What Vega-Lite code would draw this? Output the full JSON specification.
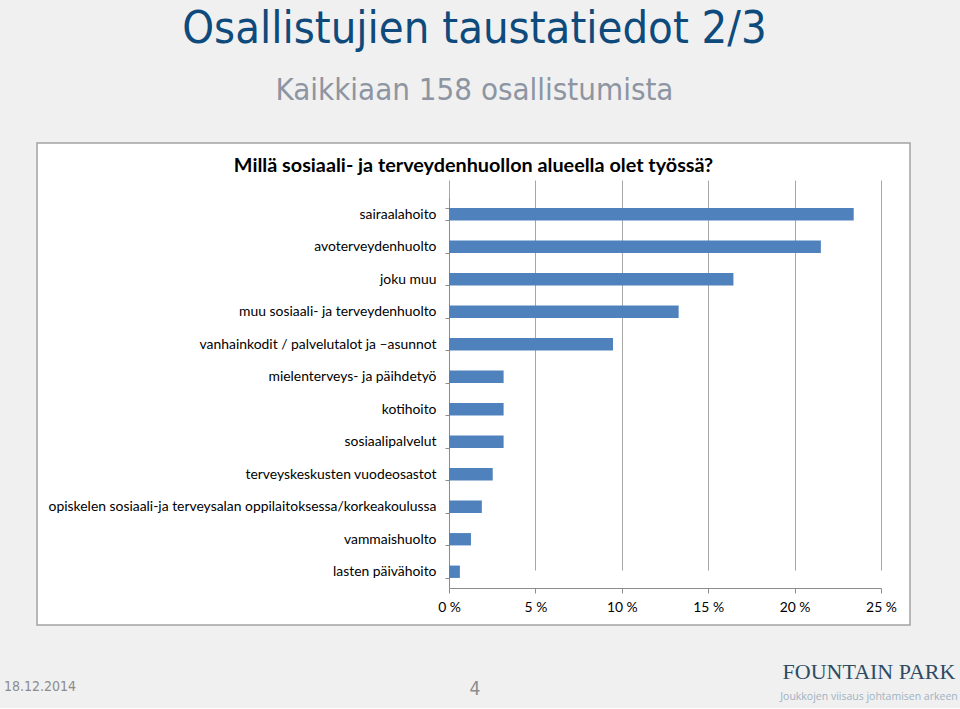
{
  "$schema": "https://vega.github.io/schema/vega-lite/v6.json",
  "background": "#f0f0f0",
  "padding": {"left": 3, "top": 7, "right": 2, "bottom": 0},
  "bounds": "flush",
  "spacing": 43,
  "title": {
    "text": "Osallistujien taustatiedot 2/3",
    "subtitle": "Kaikkiaan 158 osallistumista",
    "anchor": "middle",
    "frame": "bounds",
    "dx": -7,
    "font": "Liberation Sans Narrow, DejaVu Sans Condensed, sans-serif",
    "fontSize": 45,
    "fontWeight": "normal",
    "color": "#0e4a7b",
    "subtitleFont": "Liberation Sans Narrow, DejaVu Sans Condensed, sans-serif",
    "subtitleFontSize": 31,
    "subtitleColor": "#8d95a2",
    "subtitlePadding": 24,
    "offset": 29
  },
  "vconcat": [
    {
      "width": 873,
      "height": 482,
      "view": {"fill": "#ffffff", "stroke": "#a3a3a3", "strokeWidth": 1.5},
      "title": {
        "text": "Millä sosiaali- ja terveydenhuollon alueella olet työssä?",
        "frame": "group",
        "anchor": "middle",
        "offset": -40,
        "font": "Lato",
        "fontSize": 19.8,
        "fontWeight": "bold",
        "color": "#000000"
      },
      "data": {
        "values": [
          {"ala": "sairaalahoito", "osuus": 23.42},
          {"ala": "avoterveydenhuolto", "osuus": 21.52},
          {"ala": "joku muu", "osuus": 16.46},
          {"ala": "muu sosiaali- ja terveydenhuolto", "osuus": 13.29},
          {"ala": "vanhainkodit / palvelutalot ja –asunnot", "osuus": 9.49},
          {"ala": "mielenterveys- ja päihdetyö", "osuus": 3.16},
          {"ala": "kotihoito", "osuus": 3.16},
          {"ala": "sosiaalipalvelut", "osuus": 3.16},
          {"ala": "terveyskeskusten vuodeosastot", "osuus": 2.53},
          {"ala": "opiskelen sosiaali-ja terveysalan oppilaitoksessa/korkeakoulussa", "osuus": 1.9},
          {"ala": "vammaishuolto", "osuus": 1.27},
          {"ala": "lasten päivähoito", "osuus": 0.63}
        ]
      },
      "mark": {"type": "bar", "color": "#4f81bd"},
      "encoding": {
        "y": {
          "field": "ala",
          "type": "nominal",
          "sort": null,
          "scale": {"range": [55, 445], "paddingInner": 0.62, "paddingOuter": 0.31},
          "axis": {
            "title": null,
            "orient": "left",
            "offset": -412,
            "tickBand": "extent",
            "tickSize": 4,
            "tickColor": "#8c8c8c",
            "domainColor": "#8c8c8c",
            "labelFont": "Lato",
            "labelFontSize": 13.9,
            "labelColor": "#000000",
            "labelPadding": 9,
            "labelLimit": 0,
            "grid": false
          }
        },
        "x": {
          "field": "osuus",
          "type": "quantitative",
          "scale": {"domain": [0, 25], "range": [412, 844], "nice": false, "zero": true},
          "axis": {
            "title": null,
            "values": [0, 5, 10, 15, 20, 25],
            "labelExpr": "datum.value + ' %'",
            "offset": -37,
            "grid": true,
            "gridColor": "#a6a6a6",
            "tickSize": 5,
            "tickColor": "#8c8c8c",
            "domainColor": "#8c8c8c",
            "labelFont": "Lato",
            "labelFontSize": 13.9,
            "labelColor": "#000000",
            "labelPadding": 7,
            "labelFlush": false,
            "labelOverlap": false
          }
        }
      }
    },
    {
      "bounds": "flush",
      "spacing": 422,
      "hconcat": [
        {
          "width": 6,
          "height": 40,
          "view": {"stroke": null},
          "data": {"values": [{"teksti": "18.12.2014"}]},
          "mark": {"type": "text", "font": "Liberation Sans Narrow, DejaVu Sans Condensed, sans-serif", "fontSize": 14, "color": "#8c8c8c", "baseline": "middle", "dy": -1},
          "encoding": {"text": {"field": "teksti"}}
        },
        {
          "bounds": "flush",
          "spacing": 294,
          "hconcat": [
            {
              "width": 20,
              "height": 40,
              "view": {"stroke": null},
              "data": {"values": [{"teksti": "4"}]},
              "mark": {"type": "text", "font": "Liberation Sans Narrow, DejaVu Sans Condensed, sans-serif", "fontSize": 19, "color": "#8c8c8c", "baseline": "middle", "dy": 1},
              "encoding": {"text": {"field": "teksti"}}
            },
            {
              "width": 180,
              "height": 40,
              "view": {"stroke": null},
              "layer": [
                {
                  "data": {"values": [{"teksti": "FOUNTAIN PARK"}]},
                  "mark": {"type": "text", "font": "Liberation Serif", "fontSize": 22, "color": "#2d4b63", "baseline": "alphabetic", "dy": -9},
                  "encoding": {"text": {"field": "teksti"}}
                },
                {
                  "data": {"values": [{"teksti": "Joukkojen viisaus johtamisen arkeen"}]},
                  "mark": {"type": "text", "font": "Open Sans", "fontSize": 10.5, "color": "#9fb2c1", "baseline": "alphabetic", "dy": 12},
                  "encoding": {"text": {"field": "teksti"}}
                }
              ]
            }
          ]
        }
      ]
    }
  ]
}
